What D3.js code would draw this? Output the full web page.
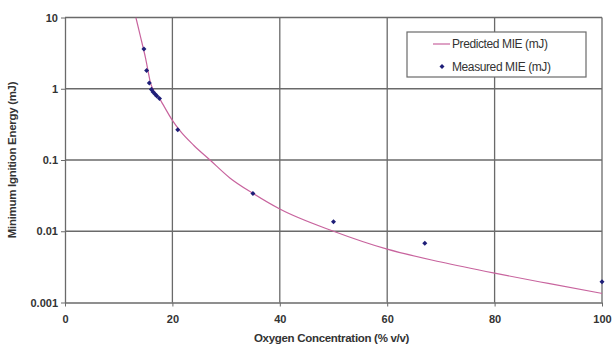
<!DOCTYPE html>
<html>
<head>
<meta charset="utf-8">
<script src="https://d3js.org/d3.v7.min.js"></script>
<style>
  body { margin: 0; background: #fff; }
  svg text { font-family: "Liberation Sans", Arial, sans-serif; fill: #333; }
</style>
</head>
<body>
<div id="chart"></div>
<script>
// measured points (oxygen % v/v, MIE mJ)
var measuredX = [14.7, 15.2, 15.7, 16.1, 16.4, 16.8, 17.1, 17.6, 21.0, 35.0, 50.0, 67.0, 100];
var measuredY = [3.6, 1.8, 1.2, 0.98, 0.9, 0.84, 0.79, 0.73, 0.265, 0.034, 0.0136, 0.0068, 0.00195];

// predicted curve
var predX = [13.2, 14, 15, 16, 17.7, 20, 21.4, 24, 27, 30.7, 35, 40, 50, 60, 70, 80, 90, 100];
var predY = [10, 5.6, 2.7, 1.15, 0.71, 0.36, 0.258, 0.16, 0.1, 0.056, 0.034, 0.0205, 0.01, 0.0056, 0.0037, 0.00258, 0.00185, 0.00134];

var xTicks = [0, 20, 40, 60, 80, 100];
var yTicks = [0.001, 0.01, 0.1, 1, 10];
var yTickLabels = ["0.001", "0.01", "0.1", "1", "10"];

var width = 616, height = 349;
var padL = 65, padR = 602, padT = 17.5, padB = 302.5;

var svg = d3.select("#chart").append("svg")
    .attr("width", width)
    .attr("height", height);

var x = d3.scaleLinear().domain([0, 100]).range([padL, padR]);
var y = d3.scaleLog().domain([0.001, 10]).range([padB, padT]);

// grid
svg.append("g").selectAll("line")
    .data(xTicks.slice(1))
    .enter().append("line")
    .attr("x1", function(d) { return x(d); })
    .attr("x2", function(d) { return x(d); })
    .attr("y1", padT).attr("y2", padB)
    .attr("stroke", "#6a6a6a").attr("stroke-width", 1.3);

svg.append("g").selectAll("line")
    .data(yTicks.slice(1))
    .enter().append("line")
    .attr("x1", padL).attr("x2", padR)
    .attr("y1", function(d) { return y(d); })
    .attr("y2", function(d) { return y(d); })
    .attr("stroke", "#6a6a6a").attr("stroke-width", 1.3);

// axes
var xAxis = d3.axisBottom(x).tickValues(xTicks).tickSize(4).tickSizeOuter(0);
var gx = svg.append("g").attr("transform", "translate(0," + padB + ")").call(xAxis);
gx.select(".domain").attr("stroke", "#6a6a6a").attr("stroke-width", 1.3);
gx.selectAll(".tick line").attr("stroke", "#6a6a6a");
gx.selectAll("text").attr("dy", "1.25em").style("font-size", "11px").style("font-weight", "bold").attr("fill", "#333");

var yAxis = d3.axisLeft(y).tickValues(yTicks)
    .tickFormat(function(d, i) { return yTickLabels[i]; })
    .tickSize(4).tickSizeOuter(0);
var gy = svg.append("g").attr("transform", "translate(" + padL + ",0)").call(yAxis);
gy.select(".domain").attr("stroke", "#6a6a6a").attr("stroke-width", 1.3);
gy.selectAll(".tick line").attr("stroke", "#6a6a6a");
gy.selectAll("text").attr("x", -7).style("font-size", "11px").style("font-weight", "bold").attr("fill", "#333");

// clip
svg.append("clipPath").attr("id", "plot")
    .append("rect").attr("x", padL).attr("y", padT)
    .attr("width", padR - padL).attr("height", padB - padT);

// predicted line
var pred = predX.map(function(d, i) { return [d, predY[i]]; });
var line = d3.line()
    .x(function(d) { return x(d[0]); })
    .y(function(d) { return y(d[1]); })
    .curve(d3.curveMonotoneX);

svg.append("path")
    .datum(pred)
    .attr("clip-path", "url(#plot)")
    .attr("d", line)
    .attr("fill", "none")
    .attr("stroke", "#c8649e")
    .attr("stroke-width", 1.2);

// measured diamonds
var diamond = d3.symbol().type(d3.symbolDiamond2).size(16);
svg.append("g").selectAll("path")
    .data(measuredX.map(function(d, i) { return [d, measuredY[i]]; }))
    .enter().append("path")
    .attr("d", diamond)
    .attr("transform", function(d) { return "translate(" + x(d[0]) + "," + y(d[1]) + ")"; })
    .attr("fill", "#1e1e78");

// axis titles
svg.append("text")
    .attr("x", (padL + padR) / 2 - 2)
    .attr("y", 342)
    .attr("text-anchor", "middle")
    .style("font-size", "11.5px")
    .style("font-weight", "bold")
    .style("letter-spacing", "-0.3px")
    .text("Oxygen Concentration (% v/v)");

svg.append("text")
    .attr("transform", "translate(16," + ((padT + padB) / 2) + ") rotate(-90)")
    .attr("text-anchor", "middle")
    .style("font-size", "11.5px")
    .style("font-weight", "bold")
    .style("letter-spacing", "-0.3px")
    .text("Minimum Ignition Energy (mJ)");

// legend
var lg = svg.append("g").attr("transform", "translate(407,32)");
lg.append("rect")
    .attr("width", 179).attr("height", 45)
    .attr("fill", "#fff").attr("stroke", "#6a6a6a").attr("stroke-width", 1.2);
lg.append("line")
    .attr("x1", 26).attr("x2", 43).attr("y1", 12).attr("y2", 12)
    .attr("stroke", "#c8649e").attr("stroke-width", 1.2);
lg.append("text").attr("x", 45).attr("y", 16)
    .style("font-size", "12px").style("letter-spacing", "-0.4px")
    .text("Predicted MIE (mJ)");
lg.append("path")
    .attr("d", diamond)
    .attr("transform", "translate(35,34.5)")
    .attr("fill", "#1e1e78");
lg.append("text").attr("x", 45).attr("y", 38.5)
    .style("font-size", "12px").style("letter-spacing", "-0.4px")
    .text("Measured MIE (mJ)");
</script>
</body>
</html>
